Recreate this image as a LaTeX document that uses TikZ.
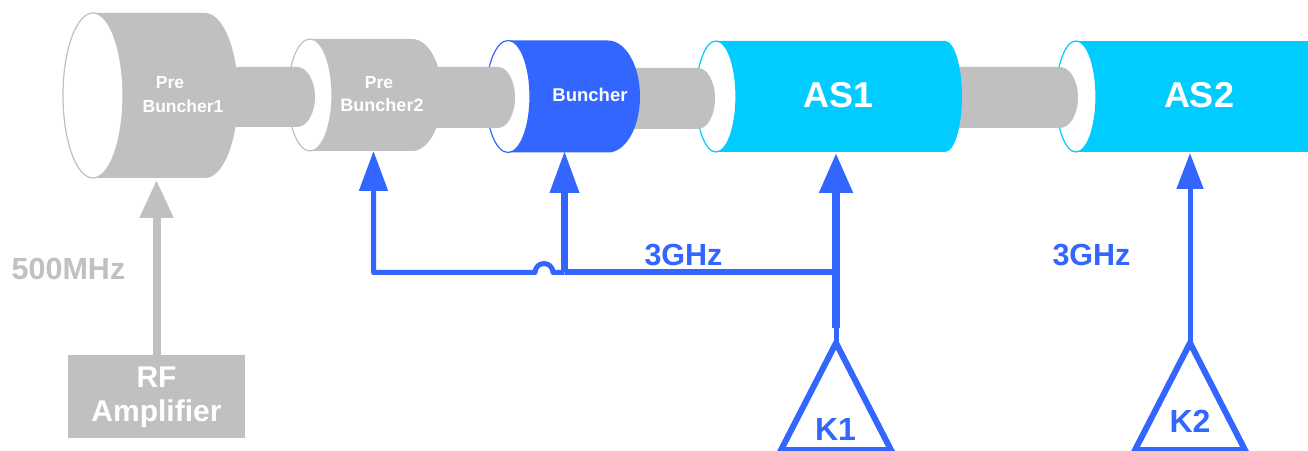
\documentclass[tikz,border=0pt]{standalone}
\usepackage{fontspec}
\setmainfont{Liberation Sans}
\usetikzlibrary{arrows.meta}
\definecolor{gr}{HTML}{C0C0C0}
\definecolor{bl}{HTML}{3366FF}
\definecolor{cy}{HTML}{00CCFF}
\newcommand{\fs}[1]{\fontsize{#1}{#1}\selectfont\bfseries}
% cylinder: cx, cy, ry, rxL, xr, rxR, colour
\newcommand{\cylbody}[7]{%
  \fill[#7] ({#1},{450-#2+#3}) -- ({#5},{450-#2+#3})
     arc[start angle=90,end angle=-90,x radius=#6pt,y radius=#3pt]
     -- ({#1},{450-#2-#3}) -- cycle;
  \draw[#7,line width=1.2pt,fill=white] ({#1},{450-#2}) ellipse[x radius=#4pt,y radius=#3pt];
}
% tube: x1, xe, cy, ry, rxe
\newcommand{\tube}[5]{%
  \fill[gr] ({#1},{450-#3+#4}) -- ({#2},{450-#3+#4})
     arc[start angle=90,end angle=-90,x radius=#5pt,y radius=#4pt]
     -- ({#1},{450-#3-#4}) -- cycle;
}
\tikzset{
  lbl/.style={inner sep=0pt,text=white,align=center},
  bluetxt/.style={inner sep=0pt,text=bl},
  graytxt/.style={inner sep=0pt,text=gr},
  sig/.style={draw=bl,line width=#1,line join=miter},
  headb/.style={-{Triangle[length=#1,width=28pt]}},
  klystron/.style={draw=bl,line width=6pt,line join=miter,fill=none},
  rfbox/.style={fill=gr,minimum width=177pt,minimum height=83pt,inner sep=0pt}
}
\begin{document}
\begin{tikzpicture}[x=1pt,y=1pt]
\clip (0,0) rectangle (1308,450);
\fill[white] (0,0) rectangle (1308,450);
% AS2
\fill[cy] (1076,{450-41}) rectangle (1308,{450-152});
\draw[cy,line width=1.2pt,fill=white] (1076,{450-96.5}) ellipse[x radius=20pt,y radius=55.5pt];
\tube{950}{1060}{97.5}{30.5}{18}
% AS1
\cylbody{716}{96.5}{55.5}{20}{945}{17}{cy}
\tube{625}{698}{98.5}{30.5}{17}
% Buncher
\cylbody{508}{96.5}{56}{22}{608}{32}{bl}
\tube{425}{498}{97.5}{30.5}{17}
% PreBuncher2
\cylbody{310}{95}{56}{22}{412}{30}{gr}
\tube{225}{297}{97}{30}{18}
% PreBuncher1
\cylbody{93}{95.5}{82.5}{30}{205}{33}{gr}
% cylinder labels
\node[lbl] (pb1a) at (170,{450-83}) {\fs{17.5}Pre};
\node[lbl] (pb1b) at (183,{450-106}) {\fs{17.5}Buncher1};
\node[lbl] (pb2a) at (379,{450-83}) {\fs{17.5}Pre};
\node[lbl] (pb2b) at (382,{450-105}) {\fs{18}Buncher2};
\node[lbl] (bun) at (590,{450-95}) {\fs{18.5}Buncher};
\node[lbl] (as1) at (838.5,{450-95}) {\fs{36}AS1};
\node[lbl] (as2) at (1199,{450-95}) {\fs{36}AS2};
% input points on the cylinders
\coordinate (pb1in) at (156.5,{450-180});
\coordinate (pb2in) at (373.5,{450-151});
\coordinate (bunin) at (564.5,{450-151});
\coordinate (as1in) at (836,{450-153});
\coordinate (as2in) at (1190,{450-153});
% RF amplifier
\node[rfbox] (rf) at (156.5,{450-396.5}) {};
\node[lbl] (rfa) at (156.5,{450-377}) {\fs{30}RF};
\node[lbl] (rfb) at (156.5,{450-413.5}) {\fs{30}Amplifier};
\draw[gr,line width=8pt,-{Triangle[length=38pt,width=32pt]}] (rf.north -| pb1in) -- (pb1in);
\node[graytxt] (f500) at (68.5,{450-269}) {\fs{30.5}500MHz};
% junctions
\coordinate (j1) at (836,{450-272.5});
\coordinate (j2) at (564.5,{450-272.5});
\coordinate (j3) at (373.5,{450-272.5});
\coordinate (bumpr) at (553,{450-272.5});
\coordinate (k1top) at (836,{450-328});
\coordinate (k1apex) at (836,{450-343});
\coordinate (k2apex) at (1190,{450-343});
% feed lines
\draw[sig=6pt] (j1) -- (j2);
\draw[sig=5pt,line join=round,headb=40pt] (j2) -- (bumpr)
   arc[start angle=0,end angle=180,radius=9pt] -- (j3) -- (pb2in);
\draw[sig=7pt,headb=42pt] (j2) -- (bunin);
\draw[sig=8pt,-{Triangle[length=40pt,width=32pt]}] (k1top) -- (as1in);
\draw[sig=5pt] (k1apex) -- (k1top);
\draw[sig=5pt,-{Triangle[length=36pt,width=26pt]}] (k2apex) -- (as2in);
% klystrons
\draw[klystron] (k1apex) -- ++(-55,-107) -- ++(110,0) -- cycle;
\draw[klystron] (k2apex) -- ++(-55,-107) -- ++(110,0) -- cycle;
\node[bluetxt] (k1) at (835.5,{450-429}) {\fs{32}K1};
\node[bluetxt] (k2) at (1190,{450-421}) {\fs{32}K2};
\node[bluetxt] (g1) at (683.5,{450-255}) {\fs{30.5}3GHz};
\node[bluetxt] (g2) at (1091.5,{450-255}) {\fs{30.5}3GHz};
\end{tikzpicture}
\end{document}
